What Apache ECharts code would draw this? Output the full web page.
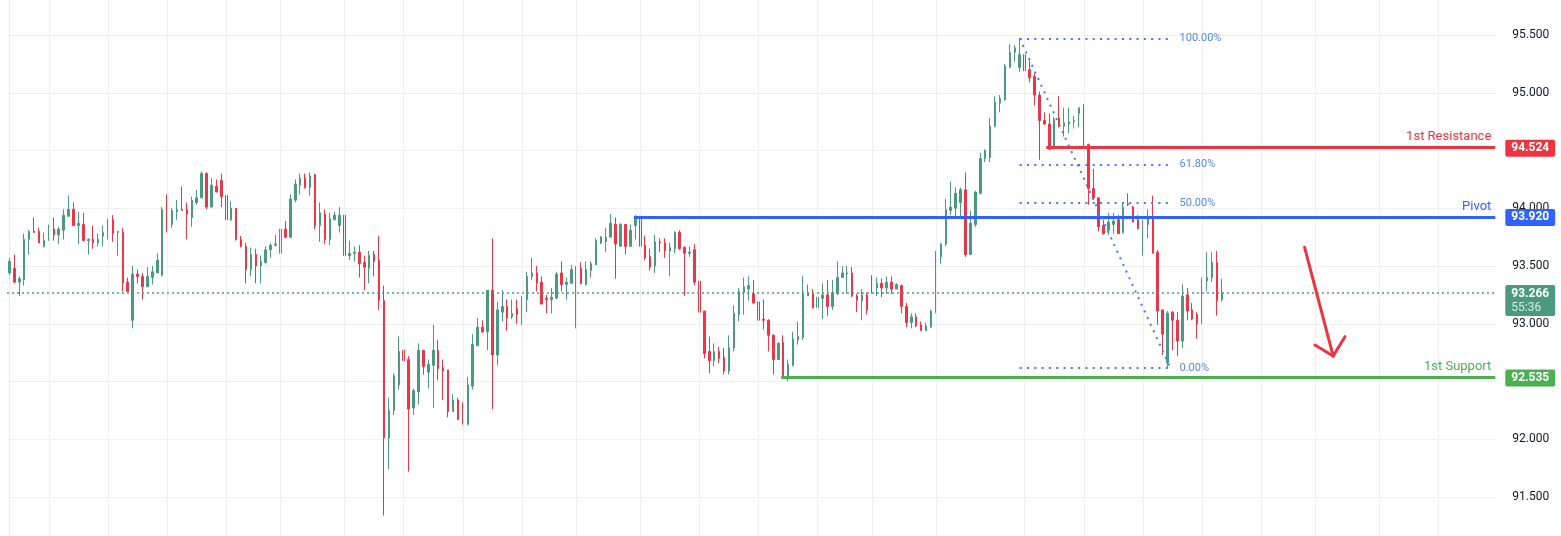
<!DOCTYPE html>
<html lang="en">
<head>
<meta charset="UTF-8">
<title>candles</title>
<script src="https://cdn.jsdelivr.net/npm/echarts@6/dist/echarts.min.js"></script>
<style>
  html, body {margin: 0; padding: 0; background: #fff;}
  #main {width: 1561px; height: 536px;}
</style>
</head>
<body>
<div id="main"></div>
<script type="text/javascript">

// OHLC, one entry per bar
var opens = [
  93.44, 93.48, 93.36, 93.38, 93.73, 93.80, 93.80, 93.67, 93.72, 93.82,
  93.77, 93.81, 93.93, 93.99, 93.85, 93.86, 93.72, 93.73, 93.70, 93.76,
  93.79, 93.90, 93.79, 93.79, 93.36, 93.03, 93.43, 93.41, 93.32, 93.40,
  93.44, 93.42, 93.99, 93.86, 93.97, 93.99, 93.99, 93.92, 94.05, 94.09,
  94.30, 94.01, 94.19, 94.24, 94.11, 93.90, 94.00, 93.73, 93.67, 93.47,
  93.60, 93.50, 93.53, 93.64, 93.68, 93.61, 93.82, 93.75, 94.07, 94.20,
  94.26, 94.18, 94.29, 93.85, 93.95, 93.73, 93.90, 93.85, 93.94, 93.59,
  93.61, 93.62, 93.53, 93.48, 93.60, 93.55, 93.20, 92.01, 92.25, 92.47,
  92.77, 92.69, 92.27, 92.41, 92.77, 92.58, 92.64, 92.77, 92.62, 92.60,
  92.24, 92.34, 92.18, 92.13, 92.46, 92.81, 92.97, 92.93, 93.29, 92.73,
  93.10, 93.15, 93.06, 93.13, 93.08, 93.21, 93.41, 93.44, 93.36, 93.22,
  93.21, 93.22, 93.44, 93.34, 93.35, 92.99, 93.48, 93.34, 93.46, 93.51,
  93.70, 93.71, 93.75, 93.86, 93.67, 93.86, 93.67, 93.85, 93.93, 93.68,
  93.58, 93.50, 93.71, 93.70, 93.63, 93.65, 93.79, 93.66, 93.61, 93.64,
  93.37, 93.11, 92.76, 92.68, 92.76, 92.71, 92.59, 92.79, 93.08, 93.27,
  93.30, 93.26, 93.19, 93.04, 93.03, 92.90, 92.69, 92.84, 92.55, 92.64,
  92.86, 92.88, 93.24, 93.26, 93.14, 93.22, 93.25, 93.15, 93.26, 93.40,
  93.43, 93.44, 93.24, 93.20, 93.25, 93.37, 93.31, 93.35, 93.31, 93.36,
  93.30, 93.33, 93.15, 93.01, 93.06, 92.99, 92.94, 92.97, 93.10, 93.58,
  93.69, 93.98, 94.00, 94.05, 94.16, 93.60, 93.86, 94.13, 94.43, 94.44,
  94.71, 94.91, 94.94, 95.22, 95.35, 95.22, 95.33, 95.20, 95.14, 94.98,
  94.76, 94.73, 94.52, 94.78, 94.71, 94.73, 94.75, 94.82, 94.87, 94.55,
  94.17, 94.09, 93.85, 93.81, 93.86, 93.90, 93.79, 94.04, 94.01, 93.90,
  93.84, 93.86, 93.91, 93.62, 93.12, 92.66, 93.10, 93.03, 92.85, 93.25,
  93.12, 93.08, 93.00, 93.37, 93.40, 93.53, 93.21
];
var closes = [
  93.54, 93.36, 93.39, 93.73, 93.80, 93.79, 93.70, 93.72, 93.82, 93.77,
  93.82, 93.94, 93.99, 93.85, 93.87, 93.72, 93.73, 93.70, 93.73, 93.79,
  93.90, 93.78, 93.80, 93.35, 93.28, 93.43, 93.41, 93.32, 93.41, 93.45,
  93.55, 93.99, 93.86, 93.98, 93.99, 93.98, 93.95, 94.07, 94.09, 94.30,
  94.01, 94.20, 94.14, 94.10, 93.90, 94.00, 93.73, 93.67, 93.47, 93.60,
  93.50, 93.54, 93.64, 93.68, 93.69, 93.82, 93.75, 94.08, 94.21, 94.26,
  94.18, 94.28, 93.85, 93.96, 93.73, 93.91, 93.94, 93.94, 93.59, 93.61,
  93.62, 93.52, 93.49, 93.59, 93.54, 93.20, 92.01, 92.25, 92.55, 92.76,
  92.68, 92.26, 92.42, 92.77, 92.63, 92.65, 92.77, 92.61, 92.59, 92.24,
  92.34, 92.17, 92.13, 92.47, 92.82, 92.97, 92.93, 93.29, 92.73, 93.12,
  93.15, 93.05, 93.09, 93.08, 93.21, 93.41, 93.44, 93.35, 93.17, 93.21,
  93.23, 93.43, 93.34, 93.36, 93.47, 93.47, 93.35, 93.47, 93.52, 93.72,
  93.75, 93.75, 93.87, 93.69, 93.86, 93.67, 93.81, 93.93, 93.67, 93.57,
  93.49, 93.71, 93.70, 93.63, 93.66, 93.79, 93.65, 93.61, 93.62, 93.36,
  93.10, 92.74, 92.68, 92.76, 92.70, 92.59, 92.79, 93.09, 93.28, 93.32,
  93.33, 93.18, 93.03, 93.03, 92.90, 92.69, 92.83, 92.55, 92.65, 92.87,
  92.89, 93.26, 93.27, 93.14, 93.23, 93.25, 93.15, 93.27, 93.40, 93.44,
  93.44, 93.24, 93.20, 93.25, 93.12, 93.31, 93.35, 93.31, 93.36, 93.30,
  93.34, 93.15, 93.01, 93.06, 92.98, 92.94, 92.98, 93.11, 93.60, 93.69,
  93.99, 94.01, 94.13, 94.16, 93.60, 93.87, 94.14, 94.43, 94.50, 94.71,
  94.92, 94.95, 95.23, 95.35, 95.39, 95.33, 95.19, 95.13, 94.98, 94.76,
  94.73, 94.51, 94.77, 94.71, 94.74, 94.75, 94.76, 94.87, 94.55, 94.17,
  94.09, 93.84, 93.78, 93.88, 93.89, 93.78, 94.01, 94.03, 93.88, 93.82,
  93.86, 93.91, 93.61, 93.11, 92.91, 93.09, 93.03, 92.85, 93.24, 93.11,
  93.04, 93.00, 93.37, 93.40, 93.53, 93.20, 93.266
];
var lows = [
  93.42, 93.35, 93.24, 93.33, 93.60, 93.79, 93.70, 93.66, 93.72, 93.72,
  93.69, 93.73, 93.93, 93.85, 93.69, 93.72, 93.60, 93.65, 93.67, 93.67,
  93.73, 93.71, 93.59, 93.28, 93.28, 92.96, 93.35, 93.21, 93.32, 93.34,
  93.44, 93.41, 93.79, 93.83, 93.90, 93.98, 93.73, 93.84, 94.03, 94.09,
  93.99, 94.01, 94.14, 94.01, 93.76, 93.89, 93.72, 93.66, 93.35, 93.41,
  93.35, 93.35, 93.52, 93.57, 93.67, 93.53, 93.74, 93.74, 94.05, 94.12,
  94.17, 94.11, 93.82, 93.71, 93.69, 93.68, 93.90, 93.79, 93.47, 93.55,
  93.54, 93.40, 93.29, 93.35, 93.41, 93.12, 91.34, 91.74, 92.21, 92.43,
  92.66, 91.72, 92.21, 92.30, 92.56, 92.44, 92.27, 92.51, 92.34, 92.19,
  92.24, 92.17, 92.13, 92.12, 92.43, 92.81, 92.92, 92.77, 92.26, 92.64,
  93.02, 92.94, 93.04, 93.00, 92.99, 93.10, 93.38, 93.28, 93.17, 93.09,
  93.09, 93.22, 93.28, 93.21, 93.35, 92.96, 93.34, 93.33, 93.40, 93.51,
  93.69, 93.62, 93.75, 93.39, 93.67, 93.60, 93.67, 93.73, 93.65, 93.55,
  93.46, 93.44, 93.62, 93.57, 93.41, 93.61, 93.64, 93.24, 93.58, 93.33,
  93.09, 92.70, 92.57, 92.63, 92.66, 92.56, 92.56, 92.76, 93.02, 93.08,
  93.20, 93.17, 93.02, 92.95, 92.76, 92.56, 92.69, 92.55, 92.50, 92.63,
  92.82, 92.86, 93.24, 93.13, 92.99, 93.04, 93.07, 93.12, 93.25, 93.40,
  93.26, 93.23, 93.10, 93.03, 93.08, 93.26, 93.24, 93.23, 93.26, 93.26,
  93.30, 93.09, 92.97, 92.96, 92.97, 92.94, 92.94, 92.97, 93.09, 93.52,
  93.67, 93.94, 93.92, 93.93, 93.58, 93.60, 93.84, 94.12, 94.40, 94.40,
  94.70, 94.83, 94.93, 95.22, 95.27, 95.18, 95.13, 95.09, 94.89, 94.42,
  94.72, 94.51, 94.51, 94.70, 94.62, 94.65, 94.69, 94.70, 94.53, 94.03,
  94.07, 93.80, 93.77, 93.77, 93.78, 93.78, 93.78, 94.02, 93.88, 93.82,
  93.59, 93.74, 93.61, 92.99, 92.73, 92.62, 92.77, 92.72, 92.79, 93.03,
  93.03, 92.87, 93.00, 93.28, 93.36, 93.07, 93.19
];
var highs = [
  93.57, 93.60, 93.41, 93.78, 93.81, 93.92, 93.83, 93.79, 93.86, 93.92,
  93.84, 93.99, 94.11, 94.05, 93.97, 93.96, 93.74, 93.85, 93.78, 93.85,
  93.91, 93.94, 93.80, 93.83, 93.40, 93.50, 93.47, 93.44, 93.49, 93.50,
  93.61, 94.01, 94.12, 94.00, 94.07, 94.19, 94.05, 94.10, 94.16, 94.32,
  94.31, 94.26, 94.25, 94.30, 94.12, 94.06, 94.00, 93.76, 93.70, 93.66,
  93.65, 93.59, 93.67, 93.70, 93.77, 93.82, 93.89, 94.12, 94.25, 94.30,
  94.30, 94.31, 94.30, 94.05, 93.99, 93.96, 93.97, 94.01, 94.02, 93.72,
  93.67, 93.68, 93.59, 93.63, 93.63, 93.76, 93.33, 92.36, 92.57, 92.89,
  92.91, 92.72, 92.44, 92.83, 92.77, 92.69, 92.99, 92.86, 92.69, 92.60,
  92.39, 92.36, 92.32, 92.54, 92.91, 93.05, 93.03, 93.29, 93.74, 93.19,
  93.29, 93.21, 93.21, 93.21, 93.24, 93.45, 93.57, 93.50, 93.41, 93.25,
  93.31, 93.45, 93.54, 93.40, 93.51, 93.50, 93.53, 93.54, 93.54, 93.74,
  93.76, 93.83, 93.95, 93.92, 93.87, 93.86, 93.86, 93.94, 94.05, 93.76,
  93.65, 93.77, 93.74, 93.74, 93.70, 93.80, 93.81, 93.67, 93.67, 93.69,
  93.38, 93.11, 92.89, 92.83, 92.80, 92.79, 92.90, 93.16, 93.31, 93.40,
  93.41, 93.38, 93.19, 93.21, 93.04, 92.91, 92.84, 92.90, 92.69, 92.93,
  93.02, 93.41, 93.34, 93.30, 93.31, 93.35, 93.38, 93.38, 93.54, 93.50,
  93.50, 93.49, 93.26, 93.30, 93.27, 93.42, 93.40, 93.39, 93.41, 93.41,
  93.35, 93.34, 93.18, 93.09, 93.09, 93.02, 93.01, 93.12, 93.63, 93.70,
  94.08, 94.23, 94.18, 94.18, 94.31, 93.98, 94.15, 94.48, 94.51, 94.78,
  94.97, 94.98, 95.25, 95.42, 95.41, 95.47, 95.34, 95.28, 95.17, 95.01,
  94.83, 94.82, 94.79, 94.97, 94.87, 94.87, 94.80, 94.87, 94.90, 94.56,
  94.34, 94.09, 93.90, 93.96, 93.96, 93.94, 94.05, 94.13, 94.02, 93.94,
  93.90, 93.99, 94.11, 93.64, 93.12, 93.11, 93.11, 93.10, 93.34, 93.31,
  93.18, 93.10, 93.40, 93.62, 93.62, 93.63, 93.39
];

// bar indexes where the time grid lines fall
var timeGrid = [8, 20, 32, 44, 55, 68, 80, 92, 104, 115, 128, 140, 152, 164, 175, 188, 206, 218, 230, 242, 254, 265, 278, 290];

// price scale
var yMin = 91, yMax = 96, yStep = 0.5;

// last price box
var lastPrice = 93.266;
var countdown = '55:36';

// support / resistance levels
var levelNames = ['1st Resistance', 'Pivot', '1st Support'];
var levelValues = [94.524, 93.920, 92.535];
var levelFrom = [210.4, 126.7, 156.6];

// fibonacci retracement
var fibHigh = 95.471, fibLow = 92.617;
var fibFrom = 205, fibTo = 235.6;
var fibRatios = [1, 0.618, 0.5, 0];
var fibLabels = ['100.00%', '61.80%', '50.00%', '0.00%'];

// hand drawn arrow [bar, price]
var arrowTail = [262.8, 93.662];
var arrowTip = [268.6, 92.721];
var arrowWings = [[264.9, 92.816], [271.0, 92.888]];

var slotCount = 302;
var UP = '#4a9a7f', DOWN = '#ee3447';
var GRID = '#f0f0f2';
var levelColors = ['#ef3340', '#2e63ff', '#4caf50'];
var FIB = '#3f78f6';

var candles = [];
for (var i = 0; i < opens.length; i++) {
    candles.push([opens[i], closes[i], lows[i], highs[i]]);
}
var slots = [];
for (var s = 0; s < slotCount; s++) slots.push(String(s));

var lineEnd = slotCount - 0.5;

// price box on the scale, drawn by an invisible full width line
function badge(value, color) {
    return {
        yAxis: value,
        lineStyle: {color: 'rgba(0,0,0,0)', width: 0},
        label: {
            show: true, position: 'end', distance: 10,
            formatter: value.toFixed(3),
            backgroundColor: color, color: '#fff',
            fontFamily: 'Roboto', fontSize: 12, fontWeight: 'bold',
            padding: [3, 6, 2, 6], borderRadius: 2
        }
    };
}

var marks = [];
// last price dotted line + box
marks.push({
    yAxis: lastPrice,
    lineStyle: {color: UP, width: 1.5, type: [2, 3]},
    label: {
        show: true, position: 'end', distance: 10, offset: [0, 8],
        formatter: '{p|' + lastPrice.toFixed(3) + '}\n{t|' + countdown + '}',
        backgroundColor: UP, padding: [2, 6, 1, 6], borderRadius: 2,
        rich: {
            p: {color: '#fff', fontFamily: 'Roboto', fontSize: 12, fontWeight: 'bold', lineHeight: 14},
            t: {color: 'rgba(255,255,255,0.78)', fontFamily: 'Roboto', fontSize: 12, lineHeight: 14}
        }
    }
});

// levels
for (var k = 0; k < levelValues.length; k++) {
    marks.push([
        {
            coord: [levelFrom[k], levelValues[k]],
            lineStyle: {color: levelColors[k], width: 3, type: 'solid'},
            label: {
                show: true, position: 'insideEndTop', distance: 4,
                formatter: levelNames[k], color: levelColors[k],
                fontFamily: 'Roboto', fontSize: 13
            }
        },
        {coord: [lineEnd, levelValues[k]]}
    ]);
    marks.push(badge(levelValues[k], levelColors[k]));
}

// fib levels
for (var f = 0; f < fibRatios.length; f++) {
    var fv = fibLow + fibRatios[f] * (fibHigh - fibLow);
    marks.push([
        {
            coord: [fibFrom, fv],
            lineStyle: {color: FIB, width: 2, type: [2, 5.3]},
            label: {
                show: true, position: 'end', distance: 9,
                formatter: fibLabels[f], color: '#5287f5',
                fontFamily: 'Roboto', fontSize: 11
            }
        },
        {coord: [fibTo, fv]}
    ]);
}
marks.push([
    {coord: [fibFrom, fibHigh], lineStyle: {color: FIB, width: 2, type: [2, 5.3]}},
    {coord: [fibTo, fibLow]}
]);

// arrow
var arrowStyle = {color: '#ee3440', width: 3, type: 'solid', cap: 'round'};
marks.push([{coord: arrowTail, lineStyle: arrowStyle}, {coord: arrowTip}]);
marks.push([{coord: arrowWings[0], lineStyle: arrowStyle}, {coord: arrowTip}]);
marks.push([{coord: arrowWings[1], lineStyle: arrowStyle}, {coord: arrowTip}]);

var myChart = echarts.init(document.getElementById('main'));

var option = {
    animation: false,
    backgroundColor: '#fff',
    grid: {left: 7, right: 65.7, top: -22.75, bottom: -18.75, containLabel: false, outerBoundsMode: 'none'},
    xAxis: [
        {type: 'category', data: slots, show: false, boundaryGap: true},
        {type: 'value', min: -0.5, max: lineEnd, show: false}
    ],
    yAxis: {
        type: 'value', position: 'right',
        min: yMin, max: yMax, interval: yStep,
        axisLine: {show: true, lineStyle: {color: '#e6e8ec'}},
        axisTick: {show: false},
        axisLabel: {
            margin: 17, color: '#131722', fontFamily: 'Roboto', fontSize: 12,
            showMinLabel: false, showMaxLabel: false,
            formatter: function (v) { return v.toFixed(3); }
        },
        splitLine: {show: true, lineStyle: {color: GRID, width: 1}}
    },
    series: [
        {
            // time grid lines
            type: 'line', xAxisIndex: 1, data: [], silent: true, z: 1,
            markLine: {
                silent: true, symbol: 'none', animation: false,
                label: {show: false},
                lineStyle: {color: GRID, width: 1, type: 'solid'},
                data: timeGrid.map(function (b) { return {xAxis: b}; })
            }
        },
        {
            type: 'candlestick', xAxisIndex: 0, data: candles, z: 3,
            barWidth: 2, silent: true,
            itemStyle: {color: UP, color0: DOWN, borderColor: UP, borderColor0: DOWN, borderWidth: 1}
        },
        {
            // drawings
            type: 'line', xAxisIndex: 1, data: [], silent: true, z: 5,
            markLine: {
                silent: true, symbol: 'none', animation: false,
                label: {show: false},
                data: marks
            }
        }
    ]
};
myChart.setOption(option);
</script>
</body>
</html>
